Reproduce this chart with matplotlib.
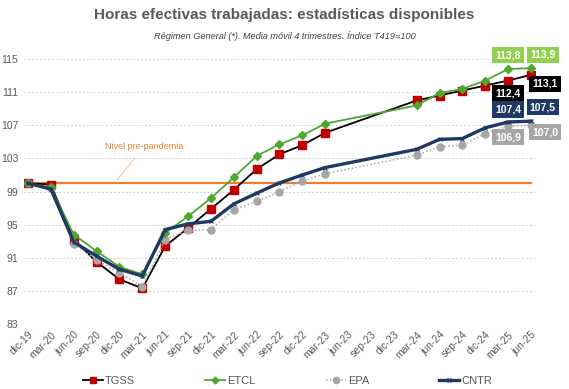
import numpy as np
import matplotlib
matplotlib.use('Agg')
import matplotlib.pyplot as plt
from matplotlib import font_manager
from matplotlib.lines import Line2D

# fuente estrecha si existe (el original usa una tipografía condensada)
available = {f.name for f in font_manager.fontManager.ttflist}
narrow = 'Liberation Sans Narrow' if 'Liberation Sans Narrow' in available else 'Liberation Sans'
plt.rcParams['font.family'] = [narrow, 'DejaVu Sans']

quarters = ['dic-19', 'mar-20', 'jun-20', 'sep-20', 'dic-20', 'mar-21', 'jun-21', 'sep-21',
            'dic-21', 'mar-22', 'jun-22', 'sep-22', 'dic-22', 'mar-23', 'jun-23', 'sep-23',
            'dic-23', 'mar-24', 'jun-24', 'sep-24', 'dic-24', 'mar-25', 'jun-25']

nan = np.nan
tgss = [100.0, 99.85, 93.2, 90.5, 88.4, 87.3, 92.4, 94.6, 96.9, 99.2, 101.7, 103.5, 104.6,
        106.1, nan, nan, nan, 110.0, 110.6, 111.2, 111.8, 112.4, 113.1]
etcl = [100.0, 99.5, 93.8, 91.8, 89.9, 89.0, 94.0, 96.0, 98.2, 100.7, 103.3, 104.7, 105.8,
        107.2, nan, nan, nan, 109.4, 110.9, 111.4, 112.4, 113.8, 113.9]
epa = [100.0, 99.4, 92.7, 90.7, 89.2, 87.5, 93.2, 94.3, 94.4, 96.8, 97.8, 99.0, 100.25,
       101.15, nan, nan, nan, 103.4, 104.4, 104.6, 106.0, 106.9, 107.0]
cntr = [100.0, 99.3, 92.9, 91.2, 89.6, 88.8, 94.4, 95.1, 95.4, 97.5, 98.8, 100.05, 101.0,
        101.9, nan, nan, nan, 104.1, 105.3, 105.4, 106.7, 107.4, 107.5]
pre_pandemia = 100
y_ticks = [83, 87, 91, 95, 99, 103, 107, 111, 115]

RED = '#C00000'
GREEN = '#4EA72E'
LGREEN = '#92D050'
GREY = '#A6A6A6'
NAVY = '#1F3864'
ORANGE = '#ED7D31'
TXT = '#595959'

fig = plt.figure(figsize=(5.69, 3.89), dpi=100)
ax = fig.add_axes([24 / 569, 65 / 389, 511 / 569, 279 / 389])

x = np.arange(len(quarters))


def valid(vals):
    v = np.array(vals, dtype=float)
    m = ~np.isnan(v)
    return x[m], v[m]


ax.plot([x[0], x[-1]], [pre_pandemia, pre_pandemia], color=ORANGE, lw=1.6, zorder=2)

xs, ys = valid(tgss)
ax.plot(xs, ys, color='black', lw=1.3, marker='s', ms=6, mfc=RED, mec=RED, zorder=3)
xs, ys = valid(epa)
ax.plot(xs, ys, color=GREY, lw=1.1, ls=(0, (1, 1.5)), marker='o', ms=5, mfc=GREY, mec=GREY, zorder=4)
xs, ys = valid(etcl)
ax.plot(xs, ys, color=GREEN, lw=1.3, marker='D', ms=4.5, mfc=GREEN, mec=GREEN, zorder=5)
xs, ys = valid(cntr)
ax.plot(xs, ys, color=NAVY, lw=2.4, marker='x', ms=3.5, mec=NAVY, mew=0.8, zorder=6)

# etiquetas de los dos últimos trimestres
labels = [
    (21, etcl[21], LGREEN, (0, 10)), (22, etcl[22], LGREEN, (8.5, 9.5)),
    (21, tgss[21], 'black', (0, -9)), (22, tgss[22], 'black', (10, -6.5)),
    (21, cntr[21], NAVY, (0, 9)), (22, cntr[22], NAVY, (8.5, 10)),
    (21, epa[21], GREY, (0, -8)), (22, epa[22], GREY, (10, -5)),
]
for xi, val, col, off in labels:
    ax.annotate(f'{val:.1f}'.replace('.', ','), (xi, val), xytext=off, textcoords='offset points',
                ha='center', va='center', fontsize=7.5, fontweight='bold', color='white',
                bbox=dict(boxstyle='square,pad=0.3', fc=col, ec='none'), zorder=10,
                annotation_clip=False)

ax.annotate('Nivel pre-pandemia', xy=(3.9, 100.4), xytext=(5.1, 104.45),
            ha='center', va='center', fontsize=6.5, color=ORANGE,
            arrowprops=dict(arrowstyle='-', color='#F4B183', lw=0.6, shrinkA=4, shrinkB=0))

ax.set_xlim(-0.175, 22.175)
ax.set_ylim(83, 116.7)
ax.set_yticks(y_ticks)
ax.set_yticklabels([str(t) for t in y_ticks], fontsize=7.5, color=TXT)
ax.set_xticks(x)
ax.set_xticklabels(quarters, rotation=45, ha='right', rotation_mode='anchor', fontsize=7.5, color=TXT)
ax.tick_params(length=0, pad=4)
ax.grid(axis='y', ls=(0, (2, 2)), color='#D0D0D0', lw=0.7)
for s in ax.spines.values():
    s.set_visible(False)

fig.text(0.5, 1 - 15 / 389, 'Horas efectivas trabajadas: estadísticas disponibles',
         ha='center', va='center', fontsize=11, fontweight='bold', color=TXT)
fig.text(0.5, 1 - 36 / 389, 'Régimen General (*). Media móvil 4 trimestres. Índice T419=100',
         ha='center', va='center', fontsize=6.6, style='italic', color='#404040')

handles = [
    Line2D([], [], color='black', lw=1.3, marker='s', ms=5, mfc=RED, mec=RED),
    Line2D([], [], color=GREEN, lw=1.3, marker='D', ms=3.5, mfc=GREEN, mec=GREEN),
    Line2D([], [], color=GREY, lw=1.1, ls=(0, (1, 1.5)), marker='o', ms=4.5, mfc=GREY, mec=GREY),
    Line2D([], [], color=NAVY, lw=2.4, marker='x', ms=3.5, mec=NAVY),
]
fig.legend(handles, ['TGSS', 'ETCL', 'EPA', 'CNTR'], loc='center', bbox_to_anchor=(0.505, 1 - 381 / 389),
           ncol=4, frameon=False, fontsize=8, handlelength=1.8, handletextpad=0.2,
           columnspacing=6.3, labelcolor=TXT)

fig.savefig('out.png', dpi=100)
